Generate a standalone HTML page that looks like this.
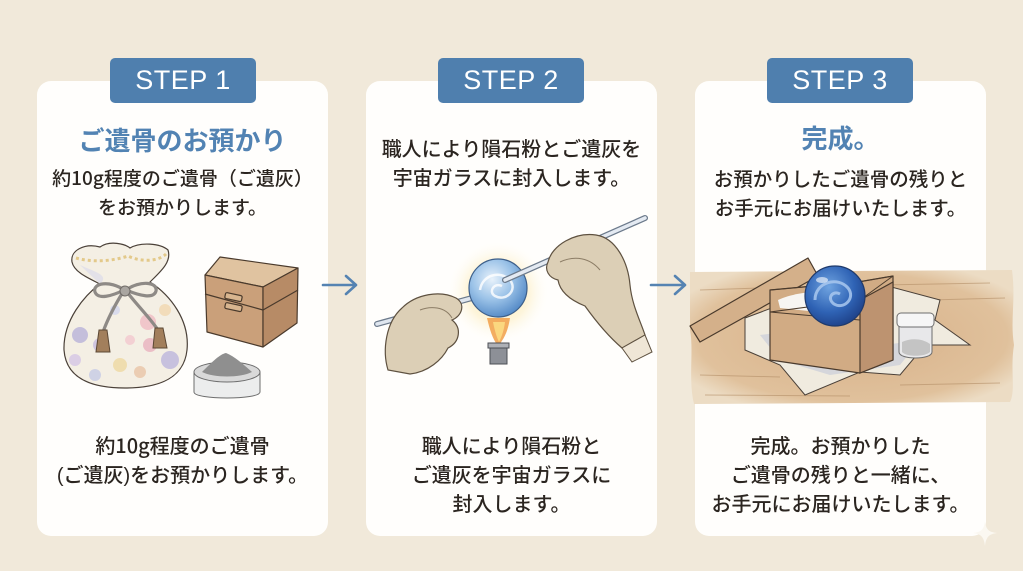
<!DOCTYPE html>
<html><head><meta charset="utf-8">
<style>
html,body{margin:0;padding:0;}
body{width:1023px;height:571px;background:#f1e9da;position:relative;overflow:hidden;font-family:"Liberation Sans","Noto Sans CJK JP",sans-serif;}
.card{position:absolute;top:81px;width:291px;height:455px;background:#fffefc;border-radius:14px;}
.badge{position:absolute;top:58px;width:146px;height:45px;background:#4f7fae;border-radius:5px;color:#fff;font-family:"Liberation Sans","Noto Sans CJK JP",sans-serif;font-size:27px;line-height:45px;text-align:center;letter-spacing:0.5px;z-index:3;}
.t{position:absolute;width:291px;text-align:center;font-family:"Noto Sans CJK JP","Liberation Sans",sans-serif;white-space:nowrap;z-index:3;}
.title{color:#5283b3;font-size:26px;font-weight:700;line-height:30px;}
.body{color:#2b2520;font-size:19.5px;font-weight:500;line-height:29px;}
.hp{font-family:"Liberation Sans",sans-serif;}
svg{position:absolute;left:0;top:0;z-index:2;}
</style></head><body>
<div class="card" style="left:37px"></div>
<div class="card" style="left:366px"></div>
<div class="card" style="left:695px"></div>

<div class="badge" style="left:110px">STEP 1</div>
<div class="badge" style="left:438px">STEP 2</div>
<div class="badge" style="left:767px">STEP 3</div>

<svg width="1023" height="571" viewBox="0 0 1023 571">
<defs>
<radialGradient id="glow" cx="0.5" cy="0.5" r="0.5">
<stop offset="0" stop-color="#fbe39a" stop-opacity="0.95"/>
<stop offset="0.6" stop-color="#fcefc6" stop-opacity="0.6"/>
<stop offset="1" stop-color="#ffffff" stop-opacity="0"/>
</radialGradient>
<radialGradient id="sph1" cx="0.4" cy="0.35" r="0.7">
<stop offset="0" stop-color="#e8f2fb"/>
<stop offset="0.5" stop-color="#9cc3e8"/>
<stop offset="1" stop-color="#4f86c4"/>
</radialGradient>
<radialGradient id="sph2" cx="0.4" cy="0.35" r="0.7">
<stop offset="0" stop-color="#6fa3e0"/>
<stop offset="0.6" stop-color="#2f63b5"/>
<stop offset="1" stop-color="#1d3f86"/>
</radialGradient>
<radialGradient id="wood" cx="0.5" cy="0.5" r="0.6">
<stop offset="0" stop-color="#d7b088"/>
<stop offset="0.8" stop-color="#e0c19c"/>
<stop offset="1" stop-color="#ecdcc4"/>
</radialGradient>
</defs>

<!-- Arrows -->
<g stroke="#5583b2" stroke-width="2.6" fill="none" stroke-linecap="round" stroke-linejoin="round">
<path d="M323,285 L356,285 M346,276 L356,285 L346,294"/>
<path d="M651,285 L685,285 M675,276 L685,285 L675,294"/>
</g>

<!-- STEP1 pouch -->
<g stroke="#4a4038" stroke-width="1.2">
<path d="M72,262 C70,250 85,243 100,247 C110,240 125,244 130,248 C140,242 160,243 168,250 C172,262 160,272 150,282 C170,295 190,320 187,350 C184,378 160,388 125,388 C90,388 66,378 64,350 C63,320 85,295 100,284 C88,278 74,272 72,262 Z" fill="#f4efe4"/>
<path d="M76,258 C90,262 110,262 128,256 C140,262 158,262 166,254" fill="none" stroke="#e3c98a" stroke-width="3" stroke-dasharray="3,3"/>
<path d="M80,265 C95,272 110,275 100,284" fill="#dcdbea" stroke="none" opacity="0.7"/>
</g>
<g stroke="none" opacity="0.8">
<circle cx="100" cy="345" r="7" fill="#c8bde0"/>
<circle cx="148" cy="322" r="8" fill="#f0bcc4"/>
<circle cx="150" cy="345" r="7" fill="#eab2bf"/>
<circle cx="80" cy="335" r="8" fill="#b9b3da"/>
<circle cx="170" cy="360" r="9" fill="#bdb6dd"/>
<circle cx="120" cy="365" r="7" fill="#efd9a2"/>
<circle cx="95" cy="375" r="6" fill="#c7cbe6"/>
<circle cx="140" cy="372" r="6" fill="#e9c5a8"/>
<circle cx="165" cy="310" r="6" fill="#f2d8b0"/>
<circle cx="115" cy="310" r="5" fill="#d3d7ee"/>
<circle cx="75" cy="360" r="6" fill="#d6c6e6"/>
<circle cx="130" cy="340" r="5" fill="#f3c9cf"/>
</g>
<g stroke="#8e8a86" stroke-width="3.2" fill="none" stroke-linecap="round">
<path d="M124,290 C110,280 92,283 95,292 C98,300 112,296 124,290"/>
<path d="M126,290 C140,280 158,282 156,291 C154,299 140,296 126,290"/>
<path d="M123,292 C115,305 108,318 103,332"/>
<path d="M127,292 C137,305 150,318 158,330"/>
</g>
<circle cx="125" cy="291" r="5" fill="#a9a5a0" stroke="#6f6a66" stroke-width="1"/>
<path d="M99,330 L107,330 L110,352 L96,352 Z" fill="#a27f5c" stroke="#5c4835" stroke-width="1"/>
<path d="M155,328 L163,328 L167,348 L153,348 Z" fill="#a27f5c" stroke="#5c4835" stroke-width="1"/>

<!-- box -->
<g stroke="#4a3a2c" stroke-width="1.2" stroke-linejoin="round">
<path d="M205,275 L220,257 L298,268 L263,287 Z" fill="#e0c3a0"/>
<path d="M205,275 L263,287 L263,347 L207,332 Z" fill="#caa07a"/>
<path d="M263,287 L298,268 L297,323 L263,347 Z" fill="#b78b66"/>
<path d="M205,294 L263,310 L298,290" fill="none"/>
<rect x="225" y="294" width="17" height="6" rx="1.5" fill="#d8b58f" transform="rotate(12 233 297)"/>
<rect x="225" y="304" width="17" height="6" rx="1.5" fill="#d8b58f" transform="rotate(12 233 307)"/>
</g>
<!-- jar -->
<g stroke="#6d6d6d" stroke-width="1">
<path d="M194,372 L194,392 C194,400 260,400 260,392 L260,372 Z" fill="#eceded"/>
<ellipse cx="227" cy="372" rx="33" ry="10" fill="#d9d9d9"/>
<path d="M202,372 C212,362 220,354 226,353 C234,356 243,364 252,372 C240,378 214,378 202,372 Z" fill="#8f8f8f" stroke="none"/>
</g>

<!-- STEP2 -->
<circle cx="498" cy="292" r="52" fill="url(#glow)"/>
<path d="M487,318 C490,330 492,338 498,346 C505,338 508,330 510,318 Z" fill="#f2a451" opacity="0.9"/>
<path d="M493,322 C495,332 497,338 499,342 C502,336 504,330 505,322 Z" fill="#fbd77f"/>
<rect x="490" y="345" width="17" height="19" fill="#8d9097" stroke="#4c4f55" stroke-width="1"/>
<rect x="488" y="343" width="21" height="5" fill="#aeb1b7" stroke="#4c4f55" stroke-width="1"/>
<path d="M377,324 L472,298" stroke="#6c7a8b" stroke-width="6" stroke-linecap="round"/>
<path d="M377,324 L472,298" stroke="#dfe6ef" stroke-width="3.5" stroke-linecap="round"/>
<circle cx="498" cy="288" r="29" fill="url(#sph1)" stroke="#3d5f8a" stroke-width="1.2"/>
<path d="M480,290 C482,275 500,270 510,280 C518,290 506,302 495,296 C488,292 494,282 502,286" fill="none" stroke="#ffffff" stroke-width="2.5" opacity="0.8"/>
<path d="M505,280 L645,218" stroke="#6c7a8b" stroke-width="6" stroke-linecap="round"/>
<path d="M505,280 L645,218" stroke="#e4eaf2" stroke-width="3.5" stroke-linecap="round"/>
<path d="M388,370 C382,350 386,322 402,308 C416,294 440,290 456,298 C466,304 462,316 452,320 C462,328 460,342 448,348 C442,360 428,372 410,374 Z" fill="#dccfb6" stroke="#5e5140" stroke-width="1.2"/>
<path d="M420,310 C430,306 445,306 452,318" fill="none" stroke="#8c7d66" stroke-width="1"/>
<path d="M548,262 C552,245 575,232 596,235 C616,238 628,262 630,285 C632,305 640,320 645,335 L622,348 C608,336 595,320 585,306 C570,300 560,292 558,280 C549,278 544,270 548,262 Z" fill="#dccfb6" stroke="#5e5140" stroke-width="1.2"/>
<path d="M622,348 L645,335 L652,352 L632,362 Z" fill="#efe6d6" stroke="#5e5140" stroke-width="1"/>
<path d="M560,262 C575,255 590,258 600,270" fill="none" stroke="#8c7d66" stroke-width="1"/>

<!-- STEP3 -->
<path d="M690,272 L1012,270 C1016,300 1010,320 1014,345 C1010,370 1016,390 1010,402 L694,404 C688,380 694,350 690,330 Z" fill="url(#wood)"/>
<g stroke="#b48f68" stroke-width="1" opacity="0.6">
<path d="M700,290 L760,288 M880,285 L990,283 M930,300 L1005,298 M700,375 L780,377 M900,385 L1000,383 M705,395 L850,396"/>
</g>
<path d="M745,318 L820,290 L880,284 L940,300 L935,320 L970,345 L925,345 L900,375 L860,372 L805,395 L780,365 L745,350 Z" fill="#f0ebdf" stroke="#4a4038" stroke-width="1"/>
<path d="M760,335 L800,330 L850,350 L920,340 L900,365 L830,375 L780,360 Z" fill="#c9cdd9" opacity="0.7"/>
<path d="M690,326 L808,258 L818,276 L700,342 Z" fill="#d4b08a" stroke="#4a3a2c" stroke-width="1.2" stroke-linejoin="round"/>
<path d="M770,290 L858,282 L893,276 L893,360 L860,373 L770,360 Z" fill="#d1ab84" stroke="#4a3a2c" stroke-width="1.2" stroke-linejoin="round"/>
<path d="M860,300 L893,282 L893,360 L860,373 Z" fill="#bd9370" stroke="#4a3a2c" stroke-width="1.2"/>
<path d="M770,312 L860,320" stroke="#4a3a2c" stroke-width="1"/>
<path d="M778,300 C800,290 840,288 858,298 L856,316 L780,308 Z" fill="#f7f5f2"/>
<path d="M770,290 L858,282 L893,276 L860,300 L770,312 Z" fill="none" stroke="#4a3a2c" stroke-width="1"/>
<circle cx="835" cy="296" r="30" fill="url(#sph2)" stroke="#1f3a6b" stroke-width="1.2"/>
<path d="M815,300 C815,282 838,276 848,288 C856,298 844,310 834,304 C826,298 833,290 840,294" fill="none" stroke="#a9c8ef" stroke-width="3" opacity="0.85"/>
<ellipse cx="822" cy="280" rx="6" ry="3" fill="#ffffff" opacity="0.6"/>
<path d="M899,326 L899,352 C899,360 932,360 932,352 L932,326 Z" fill="#e8e8ea" stroke="#6d6d6d" stroke-width="1"/>
<path d="M902,342 C910,338 922,338 930,344 L930,352 C925,357 906,357 902,352 Z" fill="#c4c4c4"/>
<rect x="897" y="313" width="37" height="14" rx="4" fill="#f6f6f6" stroke="#6d6d6d" stroke-width="1"/>

<path d="M985,521 C986,530 989,532 997,533 C989,534 986,537 985,546 C984,537 981,534 973,533 C981,532 984,530 985,521 Z" fill="#fbf8f1"/>
</svg>

<div class="t title" style="left:37px;top:125px">ご遺骨のお預かり</div>
<div class="t body" style="left:37px;top:163px;font-size:19px">約10g程度のご遺骨（ご遺灰）<br>をお預かりします。</div>
<div class="t body" style="left:37px;top:430px;font-size:20px">約10g程度のご遺骨<br><span class="hp">(</span>ご遺灰<span class="hp">)</span>をお預かりします。</div>

<div class="t body" style="left:366px;top:133px;font-size:20px">職人により隕石粉とご遺灰を<br>宇宙ガラスに封入します。</div>
<div class="t body" style="left:366px;top:430px;font-size:20px">職人により隕石粉と<br>ご遺灰を宇宙ガラスに<br>封入します。</div>

<div class="t title" style="left:695px;top:123px">完成。</div>
<div class="t body" style="left:695px;top:163px;font-size:19.5px">お預かりしたご遺骨の残りと<br>お手元にお届けいたします。</div>
<div class="t body" style="left:695px;top:430px;font-size:20px">完成。お預かりした<br>ご遺骨の残りと一緒に、<br>お手元にお届けいたします。</div>
</body></html>
